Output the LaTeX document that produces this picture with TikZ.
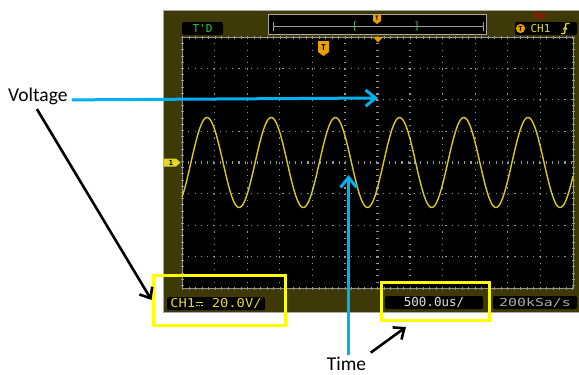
\documentclass[tikz,border=0pt]{standalone}
\usepackage{fontspec}
\setmainfont{Carlito}
\newfontfamily\scrmono{DejaVu Sans Mono}
\newfontfamily\scrwide[FakeStretch=1.12]{DejaVu Sans Mono}
\newfontfamily\scrwider[FakeStretch=1.35]{DejaVu Sans Mono}
\newcommand\dcsym{\makebox[8.3pt][c]{\rule[4.2pt]{6.6pt}{1pt}\hspace{-6.6pt}\rule[1.4pt]{1.6pt}{1pt}\hspace{0.9pt}\rule[1.4pt]{1.6pt}{1pt}\hspace{0.9pt}\rule[1.4pt]{1.6pt}{1pt}}}
\usetikzlibrary{arrows.meta}
\definecolor{scopeolive}{RGB}{62,58,8}
\definecolor{scopeframe}{RGB}{170,170,165}
\definecolor{griddotc}{RGB}{150,150,150}
\definecolor{wavec}{RGB}{215,205,20}
\definecolor{callblue}{RGB}{0,176,240}
\definecolor{hiyellow}{RGB}{255,255,0}
\definecolor{trigorange}{RGB}{232,160,0}
\definecolor{scrgreen}{RGB}{40,200,70}
\definecolor{brgreen}{RGB}{100,185,115}
\definecolor{chyellow}{RGB}{225,215,40}
\definecolor{rmtred}{RGB}{200,0,0}
\tikzset{
  griddot/.style={draw=griddotc, line width=1.2pt, dash pattern=on 1.2pt off 5.07pt},
  centertick/.style={draw=griddotc, line width=3.5pt, dash pattern=on 1.1pt off 5.17pt},
  wave/.style={draw=wavec, line width=1.4pt},
  scrbox/.style={fill=black, rounded corners=2pt, inner sep=0pt, minimum height=13pt},
  ybox/.style={draw=hiyellow, line width=3pt, inner sep=0pt},
  bluearrow/.style={draw=callblue, line width=3pt, -{Straight Barb[length=10pt,width=16pt]}},
  blackarrow/.style={draw=black, line width=2.6pt, -{Straight Barb[length=9pt,width=15pt]}},
  callout/.style={font=\fontsize{19.5}{22}\selectfont, text=black, inner sep=2pt},
  marker/.style={fill=trigorange},
  markertext/.style={font=\scrmono\bfseries\fontsize{6}{6}\selectfont, text=black, inner sep=0pt}
}
\begin{document}
\begin{tikzpicture}[x=1pt,y=-1pt]
\useasboundingbox (0,0) rectangle (579,375);
% scope frame
\fill[scopeolive] (163,10) rectangle (578.5,313);
\draw[scopeframe, line width=1.2pt] (163.6,313) -- (163.6,10.6) -- (578.5,10.6);
\draw[scopeframe, line width=1pt] (163.6,312.5) -- (578.5,312.5);
% screen
\fill[black] (182,37) rectangle (573,288);
\foreach \i in {1,...,5,7,8,...,11} \draw[griddot] ({182+\i*32.583},37) -- ++(0,251);
\foreach \j in {1,2,3,5,6,7} \draw[griddot] (182,{37+\j*31.375}) -- ++(391,0);
\draw[centertick] (377.5,37) -- (377.5,288);
\draw[centertick] (182,162.5) -- (573,162.5);
\draw[griddotc, line width=1pt] (182,37) rectangle (573,288);
\draw[griddotc, line width=3pt, dash pattern=on 1pt off 5.5pt] (182,37) -- (573,37);
\draw[griddotc, line width=3pt, dash pattern=on 1pt off 5.5pt] (182,288) -- (573,288);
\draw[griddotc, line width=3pt, dash pattern=on 1pt off 5.2pt] (182,37) -- (182,288);
\draw[griddotc, line width=3pt, dash pattern=on 1pt off 5.2pt] (573,37) -- (573,288);
% waveform
\draw[wave] plot[domain=182:573, samples=400, variable=\t] (\t,{162.5-45*cos(5.6075*(\t-207))});
% top left label
\node[scrbox, minimum width=41pt, text=scrgreen, font=\scrmono\fontsize{11}{11}\selectfont] (td) at (202.5,28.5) {T'D};
% top bar
\node[fill=black, draw=gray!70, line width=1pt, minimum width=218pt, minimum height=20pt, inner sep=0pt] (bar) at (377,24) {};
\draw[gray!75, line width=1pt] (273,26) -- (483,26);
\draw[gray!75, line width=1pt] (273,21.5) -- (273,30.5);
\draw[gray!75, line width=1pt] (483,21.5) -- (483,30.5);
\node[text=brgreen, font=\scrmono\fontsize{10}{10}\selectfont, inner sep=0pt] (lbr) at (355,26.5) {[};
\node[text=brgreen, font=\scrmono\fontsize{10}{10}\selectfont, inner sep=0pt] (rbr) at (417,26.5) {]};
\fill[marker] (373,14.5) -- (381,14.5) -- (381,21) -- (377,24) -- (373,21) -- cycle;
\node[markertext] (bart) at (377,18.8) {T};
% trigger marker at screen top
\fill[marker] (373,37) -- (383,37) -- (378,42.5) -- cycle;
% T marker in screen
\fill[marker] (318,41) -- (329,41) -- (329,52) -- (323.5,56) -- (318,52) -- cycle;
\node[markertext, font=\scrmono\bfseries\fontsize{8}{8}\selectfont] (scrt) at (323.5,47.5) {T};
% top right
\node[text=rmtred, font=\scrmono\fontsize{9}{9}\selectfont, inner sep=0pt] (rmt) at (541,16.5) {Rmt};
\node[scrbox, minimum width=62pt] (trigbox) at (546,28.5) {};
\fill[trigorange] (520.5,28.5) circle (4.6pt);
\node[markertext, font=\scrmono\bfseries\fontsize{7}{7}\selectfont] (ct) at (520.5,28.5) {T};
\node[text=chyellow, font=\scrmono\fontsize{11}{11}\selectfont, inner sep=0pt] (ch1t) at (540.5,28.8) {CH1};
\draw[chyellow, line width=1.3pt] (561,33.5) -- (564.5,33.5) -- (566,23.5) -- (569.5,23.5);
\draw[chyellow, line width=1pt] (563.2,29.5) -- (565.3,27) -- (567,29.5);
% channel 1 marker
\fill[chyellow] (164,158.5) -- (176,158.5) -- (180.5,162.5) -- (176,166.5) -- (164,166.5) -- cycle;
\node[markertext, font=\scrmono\bfseries\fontsize{7}{7}\selectfont] (one) at (171,162.5) {1};
% bottom status boxes
\node[scrbox, minimum width=98pt, text=chyellow, font=\scrwide\fontsize{12.3}{12}\selectfont] (ch1box) at (216,303.5) {CH1\dcsym\ 20.0V/};
\node[scrbox, minimum width=98pt, text=gray!25, font=\scrmono\fontsize{12.5}{12}\selectfont] (tbbox) at (434,302.5) {500.0us/};
\node[scrbox, minimum width=84pt, text=gray!65, font=\scrwider\fontsize{11}{12}\selectfont] (sabox) at (535,302.5) {200kSa/s};
% highlight boxes
\node[ybox, minimum width=132pt, minimum height=50pt] (lbox) at (219,300) {};
\node[ybox, minimum width=108pt, minimum height=38pt] (rbox) at (435,301) {};
% callouts
\node[callout, anchor=base west] (volt) at (6,101.5) {Voltage};
\node[callout, anchor=base] (time) at (346.5,370) {Time};
\coordinate (vtip) at (378,98);
\coordinate (ttipblue) at (348.5,175);
\coordinate (ttipblack) at (406,327);
\draw[bluearrow, shorten <=2pt] ([yshift=-3.5pt]volt.east) -- (vtip);
\draw[bluearrow] ([yshift=-1pt]time.north -| ttipblue) -- (ttipblue);
\draw[blackarrow] ([shift={(-1pt,-2pt)}]volt.south) -- (lbox.west);
\draw[blackarrow, shorten <=3pt] (time.north east) -- (ttipblack);
\end{tikzpicture}
\end{document}
